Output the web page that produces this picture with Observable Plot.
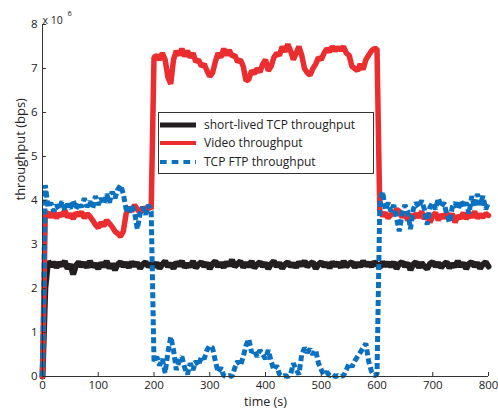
<!DOCTYPE html>
<html><head><meta charset="utf-8">
<script src="https://cdn.jsdelivr.net/npm/d3@7"></script>
<script src="https://cdn.jsdelivr.net/npm/@observablehq/plot@0.6"></script>
<style>
body{margin:0;background:#fff;}
#wrap{position:relative;width:498px;height:413px;font-family:"Open Sans",sans-serif;}
#legend{position:absolute;left:158px;top:112px;width:216px;height:62px;border:1px solid #333;background:#fff;box-sizing:border-box;}
.row{position:absolute;left:0;height:18px;width:212px;font-size:12px;color:#222;}
.row svg{position:absolute;left:1px;top:5px;}
.row span{position:absolute;left:45px;top:0;line-height:18px;white-space:nowrap;}
</style></head><body><div id="wrap"><div id="chart"></div><div id="legend"></div></div>
<script>
// time grid (s), one sample every 5 s
const times = d3.range(0, 801, 5);
// throughput values in units of 10^6 bps
const shortLived = [0,
 2.0, 2.62, 2.5, 2.6, 2.48, 2.58, 2.52, 2.62, 2.45, 2.55,
 2.32, 2.52, 2.6, 2.5, 2.58, 2.48, 2.62, 2.5, 2.56, 2.45,
 2.58, 2.5, 2.62, 2.46, 2.56, 2.42, 2.55, 2.6, 2.5, 2.58,
 2.48, 2.6, 2.52, 2.58, 2.46, 2.55, 2.6, 2.5, 2.56, 2.5,
 2.58, 2.46, 2.55, 2.62, 2.5, 2.57, 2.45, 2.6, 2.52, 2.62,
 2.48, 2.56, 2.5, 2.62, 2.47, 2.55, 2.6, 2.5, 2.58, 2.45,
 2.56, 2.62, 2.5, 2.58, 2.48, 2.6, 2.52, 2.65, 2.5, 2.56,
 2.62, 2.48, 2.58, 2.5, 2.62, 2.47, 2.55, 2.6, 2.5, 2.58,
 2.45, 2.56, 2.62, 2.5, 2.58, 2.46, 2.55, 2.6, 2.5, 2.57,
 2.48, 2.6, 2.52, 2.62, 2.5, 2.56, 2.6, 2.45, 2.55, 2.6,
 2.5, 2.58, 2.47, 2.6, 2.52, 2.58, 2.48, 2.62, 2.5, 2.56,
 2.6, 2.48, 2.58, 2.5, 2.62, 2.52, 2.58, 2.5, 2.6, 2.55,
 2.48, 2.6, 2.52, 2.58, 2.5, 2.6, 2.45, 2.56, 2.6, 2.5,
 2.58, 2.42, 2.55, 2.6, 2.48, 2.58, 2.5, 2.45, 2.56, 2.6,
 2.5, 2.58, 2.48, 2.55, 2.6, 2.47, 2.56, 2.5, 2.62, 2.5,
 2.58, 2.45, 2.56, 2.6, 2.5, 2.58, 2.46, 2.55, 2.6, 2.5];
const video = [0,
 3.7, 3.72, 3.62, 3.75, 3.6, 3.7, 3.65, 3.78, 3.62, 3.7,
 3.58, 3.72, 3.66, 3.74, 3.6, 3.7, 3.64, 3.55, 3.45, 3.38,
 3.5, 3.42, 3.55, 3.48, 3.4, 3.3, 3.25, 3.18, 3.3, 3.7,
 3.85, 3.75, 3.9, 3.8, 3.72, 3.85, 3.75, 3.88, 3.8, 7.25,
 7.3, 7.2, 7.35, 7.2, 6.8, 6.65, 7.2, 7.4, 7.3, 7.45,
 7.28, 7.4, 7.25, 7.35, 7.15, 7.2, 7.05, 7.1, 6.95, 6.82,
 6.9, 7.15, 7.35, 7.25, 7.45, 7.3, 7.42, 7.28, 7.3, 7.15,
 7.2, 7.05, 6.72, 6.75, 6.95, 6.88, 7.0, 6.92, 7.1, 7.2,
 6.95, 7.05, 7.25, 7.35, 7.3, 7.5, 7.38, 7.55, 7.4, 7.2,
 7.35, 7.5, 7.3, 7.0, 6.9, 6.85, 7.0, 7.1, 7.25, 7.2,
 7.35, 7.45, 7.38, 7.5, 7.4, 7.48, 7.42, 7.5, 7.35, 7.3,
 7.05, 7.0, 6.95, 7.1, 6.98, 7.2, 7.3, 7.4, 7.45, 7.45,
 3.75, 3.65, 3.72, 3.6, 3.68, 3.7, 3.8, 3.75, 3.62, 3.72,
 3.55, 3.68, 3.6, 3.7, 3.62, 3.75, 3.58, 3.7, 3.5, 3.65,
 3.72, 3.55, 3.68, 3.6, 3.72, 3.58, 3.7, 3.5, 3.65, 3.6,
 3.72, 3.58, 3.7, 3.62, 3.75, 3.6, 3.68, 3.62, 3.7, 3.66];
const ftp = [0,
 4.35, 3.85, 3.95, 3.75, 3.9, 3.8, 3.98, 3.78, 3.92, 3.82,
 4.0, 3.8, 3.95, 3.85, 4.05, 3.85, 3.98, 3.82, 4.1, 3.9,
 4.05, 3.92, 4.15, 3.95, 4.2, 4.05, 4.25, 4.35, 4.15, 3.8,
 3.72, 3.9, 3.75, 3.35, 3.7, 3.85, 3.68, 3.9, 3.75, 0.35,
 0.45, 0.25, 0.4, 0.08, 0.55, 0.9, 0.6, 0.15, 0.35, 0.45,
 0.2, 0.05, 0.3, 0.15, 0.35, 0.25, 0.45, 0.4, 0.6, 0.7,
 0.65, 0.35, 0.1, 0.2, 0.02, 0.0, 0.02, 0.0, 0.2, 0.35,
 0.25, 0.45, 0.7, 0.85, 0.55, 0.6, 0.45, 0.6, 0.5, 0.4,
 0.6, 0.35, 0.15, 0.25, 0.05, 0.0, 0.02, 0.0, 0.05, 0.3,
 0.15, 0.05, 0.5, 0.65, 0.55, 0.62, 0.5, 0.6, 0.3, 0.15,
 0.05, 0.1, 0.02, 0.05, 0.0, 0.02, 0.0, 0.02, 0.15, 0.3,
 0.22, 0.35, 0.45, 0.55, 0.65, 0.75, 0.35, 0.12, 0.02, 0.05,
 3.9, 4.2, 3.8, 3.95, 3.75, 3.9, 3.6, 3.3, 3.7, 3.9,
 3.75, 3.35, 3.8, 3.95, 3.85, 4.0, 3.8, 3.45, 3.85, 3.95,
 3.8, 4.05, 3.85, 3.95, 3.7, 3.5, 3.85, 3.95, 3.8, 4.0,
 3.85, 3.95, 3.7, 4.1, 3.85, 4.15, 3.9, 4.1, 3.8, 3.95];
const xTicks = [0, 100, 200, 300, 400, 500, 600, 700, 800];
const yTicks = [0, 1, 2, 3, 4, 5, 6, 7, 8];
const seriesNames = ["short-lived TCP throughput", "Video throughput", "TCP FTP throughput"];
const colors = ["#231f20", "#ec2d2f", "#0a70c0"];

const toRows = (vals) => vals.map((v, i) => ({t: times[i], v}));
const W = 498, H = 413, mL = 42, mR = 10, mT = 24, mB = 37;
const plotW = W - mL - mR, plotH = H - mT - mB;

const chart = Plot.plot({
  width: W, height: H,
  marginLeft: mL, marginRight: mR, marginTop: mT, marginBottom: mB,
  style: {fontFamily: "'Open Sans', sans-serif", fontSize: "11.5px", color: "#222", background: "#fff"},
  x: {domain: [0, 800], ticks: xTicks, tickSize: 0, tickPadding: 4, label: null},
  y: {domain: [0, 8], ticks: yTicks, tickSize: 0, tickPadding: 5, label: null},
  marks: [
    Plot.line(toRows(shortLived), {x: "t", y: "v", stroke: colors[0], strokeWidth: 6, strokeLinejoin: "miter"}),
    Plot.line(toRows(video), {x: "t", y: "v", stroke: colors[1], strokeWidth: 5.5, strokeLinejoin: "miter"}),
    Plot.line(toRows(ftp), {x: "t", y: "v", stroke: colors[2], strokeWidth: 5, strokeDasharray: "6,3", strokeLinecap: "butt", strokeLinejoin: "miter"}),
    Plot.ruleY([0], {stroke: "#333"}),
    Plot.ruleX([0], {stroke: "#333"}),
    Plot.tickX(xTicks, {x: d => d, stroke: "#333", insetTop: plotH - 4}),
    Plot.tickY(yTicks, {y: d => d, stroke: "#333", insetRight: plotW - 4}),
    Plot.text(["time (s)"], {frameAnchor: "bottom", dy: 29, fontSize: 12.5, fill: "#222"}),
    Plot.text(["throughput (bps)"], {frameAnchor: "left", dx: -22, rotate: -90, fontSize: 13, fill: "#222"}),
    Plot.text(["x 10"], {frameAnchor: "top-left", dy: -8, dx: 0, fontSize: 10.5, textAnchor: "start", fill: "#222"}),
    Plot.text(["6"], {frameAnchor: "top-left", dy: -14, dx: 25, fontSize: 7.5, textAnchor: "start", fill: "#222"})
  ]
});
document.getElementById("chart").appendChild(chart);

// legend
const legend = document.getElementById("legend");
const tops = [3, 21.3, 39.7];
const widths = [5, 4, 4];
seriesNames.forEach((name, i) => {
  const row = document.createElement("div");
  row.className = "row";
  row.style.top = tops[i] + "px";
  const dash = i === 2 ? ' stroke-dasharray="6.7,5"' : '';
  row.innerHTML = `<svg width="36" height="8"><line x1="0" y1="4" x2="36" y2="4" stroke="${colors[i]}" stroke-width="${widths[i]}"${dash}/></svg><span>${name}</span>`;
  legend.appendChild(row);
});
</script></body></html>
